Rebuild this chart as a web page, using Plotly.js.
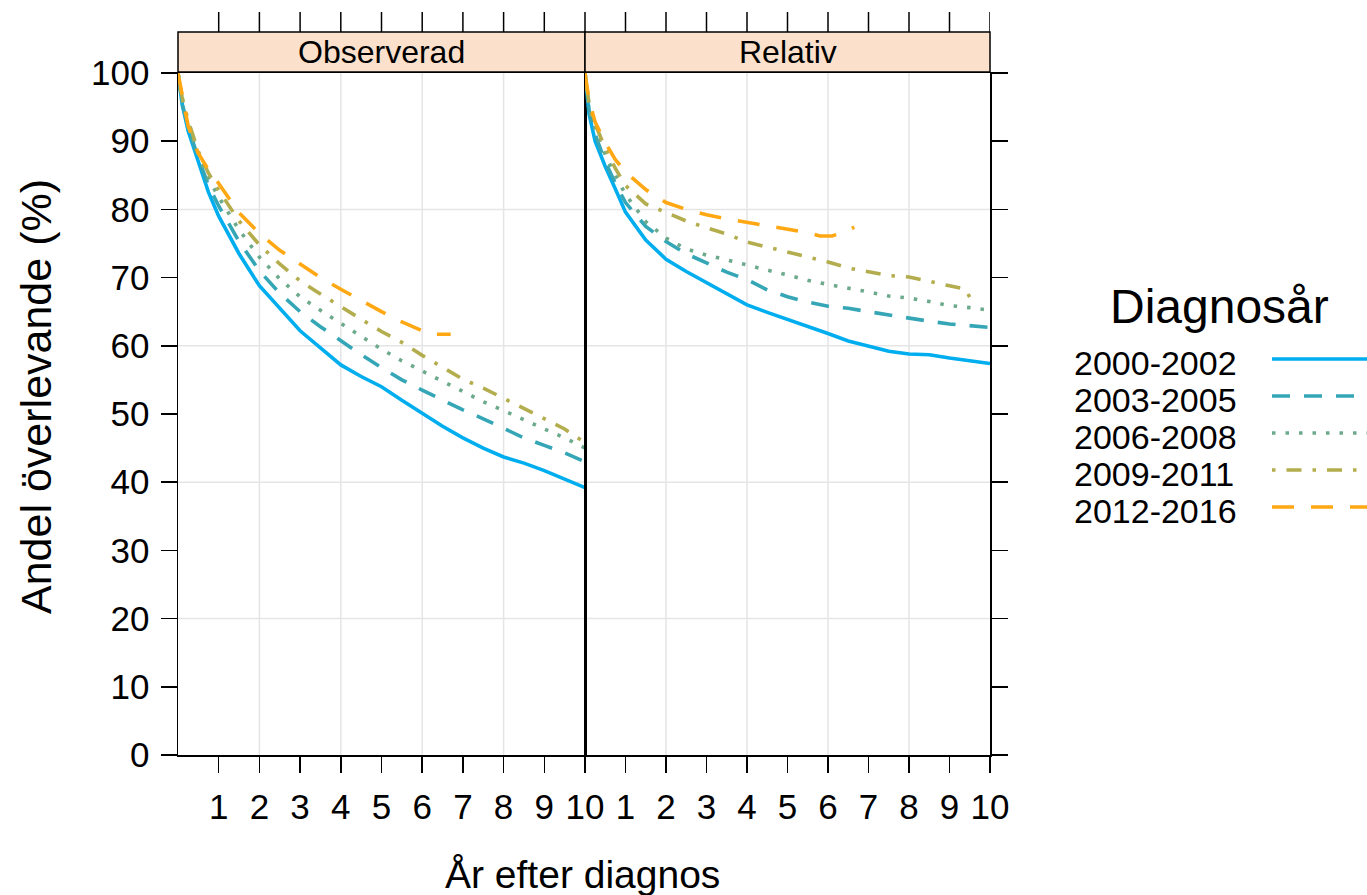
<!DOCTYPE html>
<html>
<head>
<meta charset="utf-8">
<script src="https://cdn.plot.ly/plotly-3.0.1.min.js"></script>
<style>html,body{margin:0;padding:0;background:#fff;}#chart{width:1367px;height:895px;}</style>
</head>
<body>
<div id="chart"></div>
<script>
// ---------- data ----------
const panels = ["Observerad", "Relativ"];
const groups = ["2000-2002", "2003-2005", "2006-2008", "2009-2011", "2012-2016"];
const xTicks = [1, 2, 3, 4, 5, 6, 7, 8, 9, 10];
const yTicks = [0, 10, 20, 30, 40, 50, 60, 70, 80, 90, 100];

const tFull = [0, 0.1, 0.25, 0.5, 0.75, 1, 1.5, 2, 2.5, 3, 3.5, 4, 4.5, 5, 5.5, 6, 6.5, 7, 7.5, 8, 8.5, 9, 9.5, 10];

// Observerad
const obs_2000 = [100, 95.5, 91.5, 86.8, 82.5, 79, 73.5, 68.8, 65.5, 62.2, 59.7, 57.2, 55.5, 54, 52, 50.1, 48.2, 46.5, 45, 43.7, 42.8, 41.7, 40.5, 39.2];
const obs_2003 = [100, 95.5, 92, 87.5, 83.5, 80.5, 75.3, 71, 67.7, 65, 62.8, 60.7, 58.7, 56.8, 55, 53.5, 52, 50.6, 49.3, 47.9, 46.5, 45.4, 44.3, 43.0];
const obs_2006 = [100, 96, 92.5, 88, 84.5, 81.8, 77, 73, 69.8, 67.2, 65.2, 63.3, 61.3, 59.5, 57.8, 56.3, 54.7, 53.3, 51.8, 50.5, 49.1, 47.8, 46.5, 45];
const obs_2009 = [100, 96.5, 93, 88.5, 85.3, 82.8, 78.3, 74.8, 72, 69.5, 67.6, 65.7, 63.9, 62.1, 60.5, 58.6, 56.8, 55.1, 53.8, 52.3, 50.9, 49.3, 47.8, 45.8];
const tObs_2012 = [0, 0.1, 0.25, 0.5, 0.75, 1, 1.5, 2, 2.5, 3, 3.5, 4, 4.5, 5, 5.5, 6, 6.2, 6.7];
const obs_2012 = [100, 97, 92.2, 88.2, 85.8, 83.8, 79.5, 76.5, 74, 72, 70, 68.3, 66.6, 65, 63.5, 62.2, 61.7, 61.7];

// Relativ
const rel_2000 = [100, 94, 90, 86.3, 83, 79.6, 75.5, 72.7, 70.9, 69.3, 67.6, 66, 64.9, 63.9, 62.8, 61.8, 60.7, 59.9, 59.2, 58.8, 58.7, 58.2, 57.8, 57.4];
const rel_2003 = [100, 94.5, 91, 87, 83.8, 81, 77.5, 75.3, 73.5, 72.2, 70.8, 69.7, 68.2, 67.2, 66.4, 65.8, 65.5, 65, 64.5, 64.1, 63.6, 63.2, 63.0, 62.7];
const rel_2006 = [100, 95, 91.8, 88, 85, 82.2, 78.2, 75.8, 74.2, 73.3, 72.6, 71.8, 71.1, 70.4, 69.6, 69, 68.5, 67.9, 67.3, 67, 66.5, 65.9, 65.6, 65.2];
const tRel_2009 = [0, 0.1, 0.25, 0.5, 0.75, 1, 1.5, 2, 2.5, 3, 3.5, 4, 4.5, 5, 5.5, 6, 6.5, 7, 7.5, 8, 8.5, 9, 9.4, 9.5, 9.55];
const rel_2009 = [100, 95.5, 92.5, 89, 86, 83.5, 80.8, 79.6, 78.3, 77.3, 76.4, 75.2, 74.5, 73.8, 73, 72.3, 71.4, 70.8, 70.3, 70.1, 69.4, 68.8, 68.3, 67.2, 66.5];
const tRel_2012 = [0, 0.1, 0.25, 0.5, 0.75, 1, 1.5, 2, 2.5, 3, 3.5, 4, 4.5, 5, 5.5, 5.8, 6.1, 6.4, 6.65];
const rel_2012 = [100, 96, 92.8, 89.8, 87.3, 85.5, 82.9, 81, 80, 79.2, 78.6, 78.1, 77.7, 77.2, 76.6, 76.1, 76.1, 76.7, 77.4];

// ---------- styling ----------
const colors = ["#00AEEF", "#35A6B6", "#6DAA8C", "#B3AD4E", "#FFA814"];
const dashes = ["solid", "18px,14px", "3.5px,10px", "3.5px,11px,15px,11px", "22px,17px"];
const W = 1367, H = 895;
const px = v => v / W;
const py = v => 1 - v / H;
const FONT = "Liberation Sans, Arial, sans-serif";

const obsSeries = [[tFull, obs_2000], [tFull, obs_2003], [tFull, obs_2006], [tFull, obs_2009], [tObs_2012, obs_2012]];
const relSeries = [[tFull, rel_2000], [tFull, rel_2003], [tFull, rel_2006], [tRel_2009, rel_2009], [tRel_2012, rel_2012]];

const traces = [];
[obsSeries, relSeries].forEach((ser, p) => {
  ser.forEach((s, i) => {
    traces.push({
      x: s[0], y: s[1], type: "scatter", mode: "lines",
      xaxis: p === 0 ? "x" : "x2", yaxis: p === 0 ? "y" : "y2",
      name: groups[i], showlegend: false,
      line: {color: colors[i], width: 3.6, dash: dashes[i]},
      hoverinfo: "x+y"
    });
  });
});

const xL = [px(178), px(585)], xR = [px(585), px(990)];
const yD = [py(755), py(73)];

const shapes = [];
// gridlines
["x", "x2"].forEach(ax => {
  [2, 4, 6, 8].forEach(v => shapes.push({type: "line", xref: ax, yref: "paper", x0: v, x1: v, y0: yD[0], y1: yD[1], line: {color: "#e5e5e5", width: 1.5}, layer: "below"}));
});
["y", "y2"].forEach((ay, k) => {
  const dom = k === 0 ? xL : xR;
  [20, 40, 60, 80].forEach(v => shapes.push({type: "line", xref: "paper", yref: ay, x0: dom[0], x1: dom[1], y0: v, y1: v, line: {color: "#e5e5e5", width: 1.5}, layer: "below"}));
});
// strips
[xL, xR].forEach(dom => shapes.push({type: "rect", xref: "paper", yref: "paper", x0: dom[0], x1: dom[1], y0: py(72), y1: py(32), fillcolor: "#FBE0CB", line: {color: "#000", width: 1.5}, layer: "below"}));
// top ticks above strips
xTicks.forEach(v => shapes.push({type: "line", xref: "x", yref: "paper", x0: v, x1: v, y0: py(32), y1: py(12), line: {color: "#000", width: 1.5}}));
[0].concat(xTicks).forEach(v => shapes.push({type: "line", xref: "x2", yref: "paper", x0: v, x1: v, y0: py(32), y1: py(12), line: {color: "#000", width: 1.5}}));

// legend (drawn manually: text left, line sample right)
const legY = [359, 396, 433, 470, 507];
groups.forEach((g, i) => shapes.push({type: "line", xref: "paper", yref: "paper", x0: px(1272), x1: px(1367), y0: py(legY[i]), y1: py(legY[i]), line: {color: colors[i], width: 3.4, dash: dashes[i]}}));

const annotations = [];
panels.forEach((p, k) => {
  const dom = k === 0 ? xL : xR;
  annotations.push({text: p, xref: "paper", yref: "paper", x: (dom[0] + dom[1]) / 2, y: py(52), xanchor: "center", yanchor: "middle", showarrow: false, font: {family: FONT, size: 32, color: "#000"}});
});
annotations.push({text: "Diagnosår", xref: "paper", yref: "paper", x: px(1219), y: py(306), xanchor: "center", yanchor: "middle", showarrow: false, font: {family: FONT, size: 48, color: "#000"}});
groups.forEach((g, i) => annotations.push({text: g, xref: "paper", yref: "paper", x: px(1072), y: py(legY[i] + 4), xanchor: "left", yanchor: "middle", showarrow: false, font: {family: FONT, size: 34, color: "#000"}}));
annotations.push({text: "År efter diagnos", xref: "paper", yref: "paper", x: px(582), y: py(874), xanchor: "center", yanchor: "middle", showarrow: false, font: {family: FONT, size: 39, color: "#000"}});
annotations.push({text: "Andel överlevande (%)", xref: "paper", yref: "paper", x: px(36), y: py(397), xanchor: "center", yanchor: "middle", textangle: -90, showarrow: false, font: {family: FONT, size: 43, color: "#000"}});

const axBase = {showgrid: false, zeroline: false, showline: true, linecolor: "#000", linewidth: 1.5, mirror: true, ticks: "outside", ticklen: 16, tickwidth: 1.5, tickcolor: "#000", tickfont: {family: FONT, size: 35, color: "#000"}};

const layout = {
  width: W, height: H, autosize: false,
  margin: {l: 0, r: 0, t: 0, b: 0},
  paper_bgcolor: "#fff", plot_bgcolor: "rgba(0,0,0,0)",
  showlegend: false,
  xaxis: Object.assign({}, axBase, {domain: xL, range: [0, 10], anchor: "y", tickvals: xTicks, ticktext: xTicks.map(String), ticklabelstandoff: 4}),
  xaxis2: Object.assign({}, axBase, {domain: xR, range: [0, 10], anchor: "y2", tickvals: [0].concat(xTicks), ticktext: [""].concat(xTicks.map(String)), ticklabelstandoff: 4}),
  yaxis: Object.assign({}, axBase, {domain: yD, range: [0, 100], anchor: "x", tickvals: yTicks, ticktext: yTicks.map(String), side: "left", ticklabelstandoff: 4}),
  yaxis2: Object.assign({}, axBase, {domain: yD, range: [0, 100], anchor: "x2", tickvals: yTicks, ticktext: yTicks.map(() => ""), side: "right"}),
  shapes: shapes,
  annotations: annotations
};

Plotly.newPlot("chart", traces, layout, {displayModeBar: false, staticPlot: true});
</script>
</body>
</html>
